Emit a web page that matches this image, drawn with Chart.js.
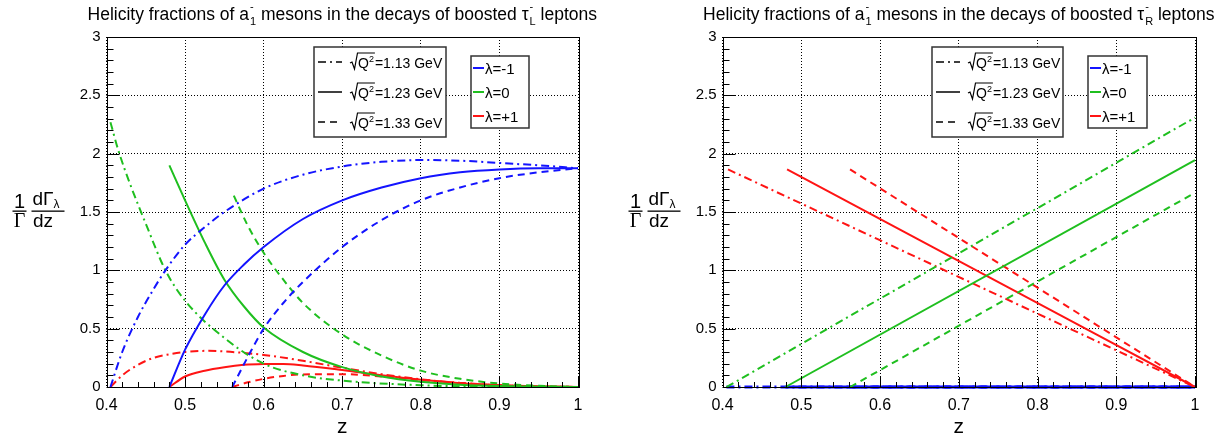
<!DOCTYPE html>
<html>
<head>
<meta charset="utf-8">
<script src="https://cdn.jsdelivr.net/npm/chart.js@4.4.0/dist/chart.umd.min.js"></script>
<style>
  html, body { margin: 0; padding: 0; background: #fff; }
  #wrap { position: relative; width: 1219px; height: 440px; overflow: hidden; }
  .pane { position: absolute; top: 0; height: 440px; }
</style>
</head>
<body>
<div id="wrap">
  <div class="pane" style="left:0;width:610px"><canvas id="cL" width="610" height="440"></canvas></div>
  <div class="pane" style="left:610px;width:609px"><canvas id="cR" width="609" height="440"></canvas></div>
</div>
<script>
// axes
const Z_TICKS = [0.4, 0.5, 0.6, 0.7, 0.8, 0.9, 1];
const Y_TICKS = [0, 0.5, 1, 1.5, 2, 2.5, 3];
const MASSES = ['1.13', '1.23', '1.33'];
const LAMBDAS = ['-1', '0', '+1'];

// tau_L: [z, 1/G dG/dz] for lambda = -1 (blue), 0 (green), +1 (red)
const L_BLUE_113 = [[0.405,0],[0.42,0.3],[0.44,0.6],[0.46,0.84],[0.475,1.0],[0.5,1.22],[0.525,1.37],[0.55,1.5],[0.6,1.7],[0.65,1.82],[0.7,1.89],[0.75,1.93],[0.8,1.945],[0.85,1.94],[0.9,1.92],[0.95,1.9],[1.0,1.875]];
const L_BLUE_123 = [[0.48,0],[0.5,0.32],[0.525,0.62],[0.55,0.87],[0.575,1.05],[0.6,1.2],[0.65,1.44],[0.7,1.6],[0.75,1.71],[0.8,1.79],[0.85,1.84],[0.9,1.865],[0.95,1.875],[1.0,1.875]];
const L_BLUE_133 = [[0.56,0],[0.58,0.26],[0.6,0.5],[0.625,0.72],[0.65,0.9],[0.7,1.2],[0.75,1.43],[0.8,1.6],[0.85,1.71],[0.9,1.79],[0.95,1.84],[1.0,1.875]];

const L_GREEN_113 = [[0.405,2.27],[0.415,2.03],[0.43,1.74],[0.45,1.4],[0.475,1.0],[0.5,0.74],[0.55,0.42],[0.6,0.2],[0.65,0.1],[0.7,0.055],[0.8,0.015],[0.9,0.003],[1.0,0]];
const L_GREEN_123 = [[0.48,1.9],[0.5,1.6],[0.525,1.24],[0.55,0.92],[0.575,0.69],[0.6,0.51],[0.65,0.3],[0.7,0.17],[0.75,0.09],[0.8,0.045],[0.85,0.02],[0.9,0.008],[1.0,0]];
const L_GREEN_133 = [[0.562,1.64],[0.58,1.38],[0.6,1.15],[0.625,0.92],[0.65,0.72],[0.7,0.45],[0.75,0.27],[0.8,0.14],[0.85,0.07],[0.9,0.03],[0.95,0.01],[1.0,0]];

const L_RED_113 = [[0.405,0],[0.42,0.1],[0.44,0.19],[0.46,0.25],[0.48,0.28],[0.5,0.3],[0.53,0.31],[0.56,0.3],[0.6,0.275],[0.65,0.225],[0.7,0.165],[0.75,0.11],[0.8,0.066],[0.85,0.035],[0.9,0.015],[0.95,0.005],[1.0,0]];
const L_RED_123 = [[0.48,0],[0.5,0.09],[0.525,0.14],[0.55,0.17],[0.575,0.19],[0.6,0.197],[0.625,0.198],[0.65,0.185],[0.7,0.145],[0.75,0.1],[0.8,0.062],[0.85,0.033],[0.9,0.014],[0.95,0.004],[1.0,0]];
const L_RED_133 = [[0.56,0],[0.58,0.04],[0.6,0.07],[0.625,0.095],[0.65,0.108],[0.7,0.11],[0.75,0.09],[0.8,0.06],[0.85,0.035],[0.9,0.016],[0.95,0.005],[1.0,0]];

// tau_R: straight lines
const R_BLUE_113 = [[0.405,0],[1.0,0]];
const R_BLUE_123 = [[0.48,0],[1.0,0]];
const R_BLUE_133 = [[0.56,0],[1.0,0]];
const R_GREEN_113 = [[0.405,0],[1.0,2.31]];
const R_GREEN_123 = [[0.48,0],[1.0,1.945]];
const R_GREEN_133 = [[0.562,0],[1.0,1.665]];
const R_RED_113 = [[0.407,1.865],[1.0,0]];
const R_RED_123 = [[0.482,1.865],[1.0,0]];
const R_RED_133 = [[0.562,1.865],[1.0,0]];

const BLUE = '#1414ff', GREEN = '#1fbf1f', RED = '#ff1414';
const STYLE = [[8, 4, 2, 4], [], [7, 5]];   // 1.13 / 1.23 / 1.33
const FONT = '"Liberation Sans", Arial, sans-serif';

function line(points, color, dash, width) {
  return {
    data: points.map(([x, y]) => ({ x, y })),
    borderColor: color, borderDash: dash, borderWidth: width || 2,
    pointRadius: 0, fill: false, clip: 4,
    cubicInterpolationMode: 'monotone'
  };
}

// text with stacked sub/superscripts: parts are strings or {sub, sup}
function richWidth(ctx, parts, size) {
  let w = 0;
  for (const p of parts) {
    if (typeof p === 'string') { ctx.font = size + 'px ' + FONT; w += ctx.measureText(p).width; }
    else { ctx.font = Math.round(size * 0.6) + 'px ' + FONT; w += Math.max(ctx.measureText(p.sub || '').width, ctx.measureText(p.sup || '').width) + 1; }
  }
  return w;
}
function drawRich(ctx, x, y, parts, size) {
  ctx.textAlign = 'left'; ctx.textBaseline = 'alphabetic';
  for (const p of parts) {
    if (typeof p === 'string') {
      ctx.font = size + 'px ' + FONT; ctx.fillText(p, x, y); x += ctx.measureText(p).width;
    } else {
      ctx.font = Math.round(size * 0.6) + 'px ' + FONT;
      if (p.sup) ctx.fillText(p.sup, x + 1, y - size * 0.55);
      if (p.sub) ctx.fillText(p.sub, x + 1, y + size * 0.3);
      x += Math.max(ctx.measureText(p.sub || '').width, ctx.measureText(p.sup || '').width) + 1;
    }
  }
  return x;
}

// sqrt(Q^2)=m GeV legend text
function drawSqrtLabel(ctx, x, y, mass) {
  ctx.save();
  ctx.strokeStyle = '#000'; ctx.lineWidth = 1.2; ctx.setLineDash([]);
  ctx.beginPath();
  ctx.moveTo(x, y - 5); ctx.lineTo(x + 2, y - 6); ctx.lineTo(x + 4.5, y + 1);
  ctx.lineTo(x + 7.5, y - 15);
  ctx.font = '14px ' + FONT;
  const wq = ctx.measureText('Q').width;
  ctx.font = '9px ' + FONT;
  const w2 = ctx.measureText('2').width;
  ctx.lineTo(x + 8 + wq + w2 + 1, y - 15);
  ctx.stroke();
  ctx.fillStyle = '#000';
  ctx.textAlign = 'left'; ctx.textBaseline = 'alphabetic';
  ctx.font = '14px ' + FONT; ctx.fillText('Q', x + 8, y);
  ctx.font = '9px ' + FONT; ctx.fillText('2', x + 8 + wq, y - 6);
  ctx.font = '14px ' + FONT; ctx.fillText('=' + mass + ' GeV', x + 8 + wq + w2 + 1, y);
  ctx.restore();
}

const decor = {
  id: 'decor',
  afterDraw(chart, args, o) {
    const ctx = chart.ctx, a = chart.chartArea;
    const xs = chart.scales.x, ys = chart.scales.y;
    ctx.save();
    ctx.setLineDash([]);
    ctx.strokeStyle = '#000'; ctx.lineWidth = 1;

    // inward ticks: x every 0.02, y every 0.1
    ctx.beginPath();
    for (let i = 0; i <= 30; i++) {
      const px = Math.round(xs.getPixelForValue(0.4 + i * 0.02)) + 0.5;
      const len = i % 5 === 0 ? 10 : 5;
      ctx.moveTo(px, a.bottom); ctx.lineTo(px, a.bottom - len);
    }
    for (let i = 0; i <= 30; i++) {
      const py = Math.round(ys.getPixelForValue(i * 0.1)) + 0.5;
      const len = i % 5 === 0 ? 13 : 7;
      ctx.moveTo(a.left, py); ctx.lineTo(a.left + len, py);
    }
    ctx.stroke();
    ctx.strokeRect(Math.round(a.left) + 0.5, Math.round(a.top) + 0.5, Math.round(a.right - a.left), Math.round(a.bottom - a.top));

    // title
    ctx.fillStyle = '#000';
    const ts = 17.5;
    const tw = richWidth(ctx, o.title, ts);
    drawRich(ctx, (a.left + a.right) / 2 - tw / 2, 20, o.title, ts);

    // x title
    ctx.font = '21px ' + FONT; ctx.textAlign = 'center'; ctx.textBaseline = 'alphabetic';
    ctx.fillText('z', (a.left + a.right) / 2, 433);

    // y title: 1/Gamma dGamma_lambda/dz
    const bx = a.left - 95;
    ctx.font = '20px ' + FONT; ctx.textAlign = 'center';
    ctx.fillText('1', bx + 8, 208);
    ctx.font = '20px "Liberation Serif", serif';
    ctx.fillText('\u0393', bx + 8, 227);
    ctx.fillRect(bx + 1, 210.5, 14, 1.3);
    ctx.font = '19px ' + FONT; ctx.textAlign = 'left';
    ctx.fillText('d\u0393', bx + 21, 205);
    const wd = ctx.measureText('d\u0393').width;
    ctx.font = '12px ' + FONT;
    ctx.fillText('\u03bb', bx + 21 + wd, 208);
    ctx.fillRect(bx + 20, 210.5, 33, 1.3);
    ctx.font = '19px ' + FONT; ctx.textAlign = 'center';
    ctx.fillText('dz', bx + 21 + wd / 2, 227);

    // legend: line styles
    const L1 = o.leg1;
    ctx.fillStyle = '#fff'; ctx.fillRect(L1.x0, L1.y0, L1.x1 - L1.x0, L1.y1 - L1.y0);
    ctx.strokeStyle = '#333'; ctx.lineWidth = 1.5;
    ctx.strokeRect(L1.x0, L1.y0, L1.x1 - L1.x0, L1.y1 - L1.y0);
    const h1 = (L1.y1 - L1.y0) / 3;
    MASSES.forEach((m, i) => {
      const cy = L1.y0 + h1 * (i + 0.5);
      ctx.strokeStyle = '#000'; ctx.lineWidth = 1.5; ctx.setLineDash(STYLE[i]);
      ctx.beginPath(); ctx.moveTo(L1.x0 + 4, cy); ctx.lineTo(L1.x0 + 28, cy); ctx.stroke();
      ctx.setLineDash([]);
      drawSqrtLabel(ctx, L1.x0 + 36, cy + 6, m);
    });

    // legend: helicities
    const L2 = o.leg2;
    ctx.fillStyle = '#fff'; ctx.fillRect(L2.x0, L2.y0, L2.x1 - L2.x0, L2.y1 - L2.y0);
    ctx.strokeStyle = '#333'; ctx.lineWidth = 1.5;
    ctx.strokeRect(L2.x0, L2.y0, L2.x1 - L2.x0, L2.y1 - L2.y0);
    const h2 = (L2.y1 - L2.y0) / 3;
    [BLUE, GREEN, RED].forEach((c, i) => {
      const cy = L2.y0 + h2 * (i + 0.5);
      ctx.strokeStyle = c; ctx.lineWidth = 2;
      ctx.beginPath(); ctx.moveTo(L2.x0 + 2, cy); ctx.lineTo(L2.x0 + 13, cy); ctx.stroke();
      ctx.fillStyle = '#000'; ctx.font = '15px ' + FONT; ctx.textAlign = 'left';
      ctx.fillText('\u03bb=' + LAMBDAS[i], L2.x0 + 14, cy + 5.5);
    });
    ctx.restore();
  }
};

function makeChart(id, datasets, pad, decorOpts) {
  return new Chart(document.getElementById(id), {
    type: 'line',
    data: { datasets },
    plugins: [decor],
    options: {
      responsive: false, animation: false, parsing: true,
      layout: { padding: { left: 0, right: pad.right, top: pad.top, bottom: 0 } },
      plugins: { legend: { display: false }, tooltip: { enabled: false }, decor: decorOpts },
      scales: {
        x: {
          type: 'linear', min: 0.4, max: 1,
          afterBuildTicks: s => { s.ticks = Z_TICKS.map(v => ({ value: v })); },
          afterFit: s => { s.height = pad.bottom; },
          grid: { color: '#000', lineWidth: 1, drawTicks: false, tickLength: 0 },
          border: { display: false, dash: [1, 2] },
          ticks: { color: '#000', font: { family: FONT, size: 16 }, padding: 9, maxRotation: 0,
                   callback: v => String(+v.toFixed(1)) }
        },
        y: {
          type: 'linear', min: 0, max: 3,
          afterBuildTicks: s => { s.ticks = Y_TICKS.map(v => ({ value: v })); },
          afterFit: s => { s.width = pad.left; },
          grid: { color: '#000', lineWidth: 1, drawTicks: false, tickLength: 0 },
          border: { display: false, dash: [1, 2] },
          ticks: { color: '#000', font: { family: FONT, size: 15 }, padding: 6,
                   callback: v => String(+v.toFixed(1)) }
        }
      }
    }
  });
}

makeChart('cL', [
  line(L_BLUE_113, BLUE, STYLE[0]), line(L_BLUE_123, BLUE, STYLE[1]), line(L_BLUE_133, BLUE, STYLE[2]),
  line(L_GREEN_113, GREEN, STYLE[0]), line(L_GREEN_123, GREEN, STYLE[1]), line(L_GREEN_133, GREEN, STYLE[2]),
  line(L_RED_113, RED, STYLE[0]), line(L_RED_123, RED, STYLE[1]), line(L_RED_133, RED, STYLE[2])
], { left: 106.5, right: 32, top: 37, bottom: 53 }, {
  title: ['Helicity fractions of a', { sub: '1', sup: '-' }, ' mesons in the decays of boosted \u03c4', { sub: 'L', sup: '-' }, ' leptons'],
  leg1: { x0: 314, y0: 47, x1: 446, y1: 137 },
  leg2: { x0: 471, y0: 56, x1: 529, y1: 128 }
});

makeChart('cR', [
  line(R_GREEN_113, GREEN, STYLE[0]), line(R_GREEN_123, GREEN, STYLE[1]), line(R_GREEN_133, GREEN, STYLE[2]),
  line(R_RED_113, RED, STYLE[0]), line(R_RED_123, RED, STYLE[1]), line(R_RED_133, RED, STYLE[2]),
  line(R_BLUE_113, BLUE, STYLE[0], 3), line(R_BLUE_123, BLUE, STYLE[1], 3), line(R_BLUE_133, BLUE, STYLE[2], 3)
], { left: 112.5, right: 24, top: 37, bottom: 53 }, {
  title: ['Helicity fractions of a', { sub: '1', sup: '-' }, ' mesons in the decays of boosted \u03c4', { sub: 'R', sup: '-' }, ' leptons'],
  leg1: { x0: 322, y0: 47, x1: 453, y1: 137 },
  leg2: { x0: 478, y0: 56, x1: 537, y1: 128 }
});
</script>
</body>
</html>
